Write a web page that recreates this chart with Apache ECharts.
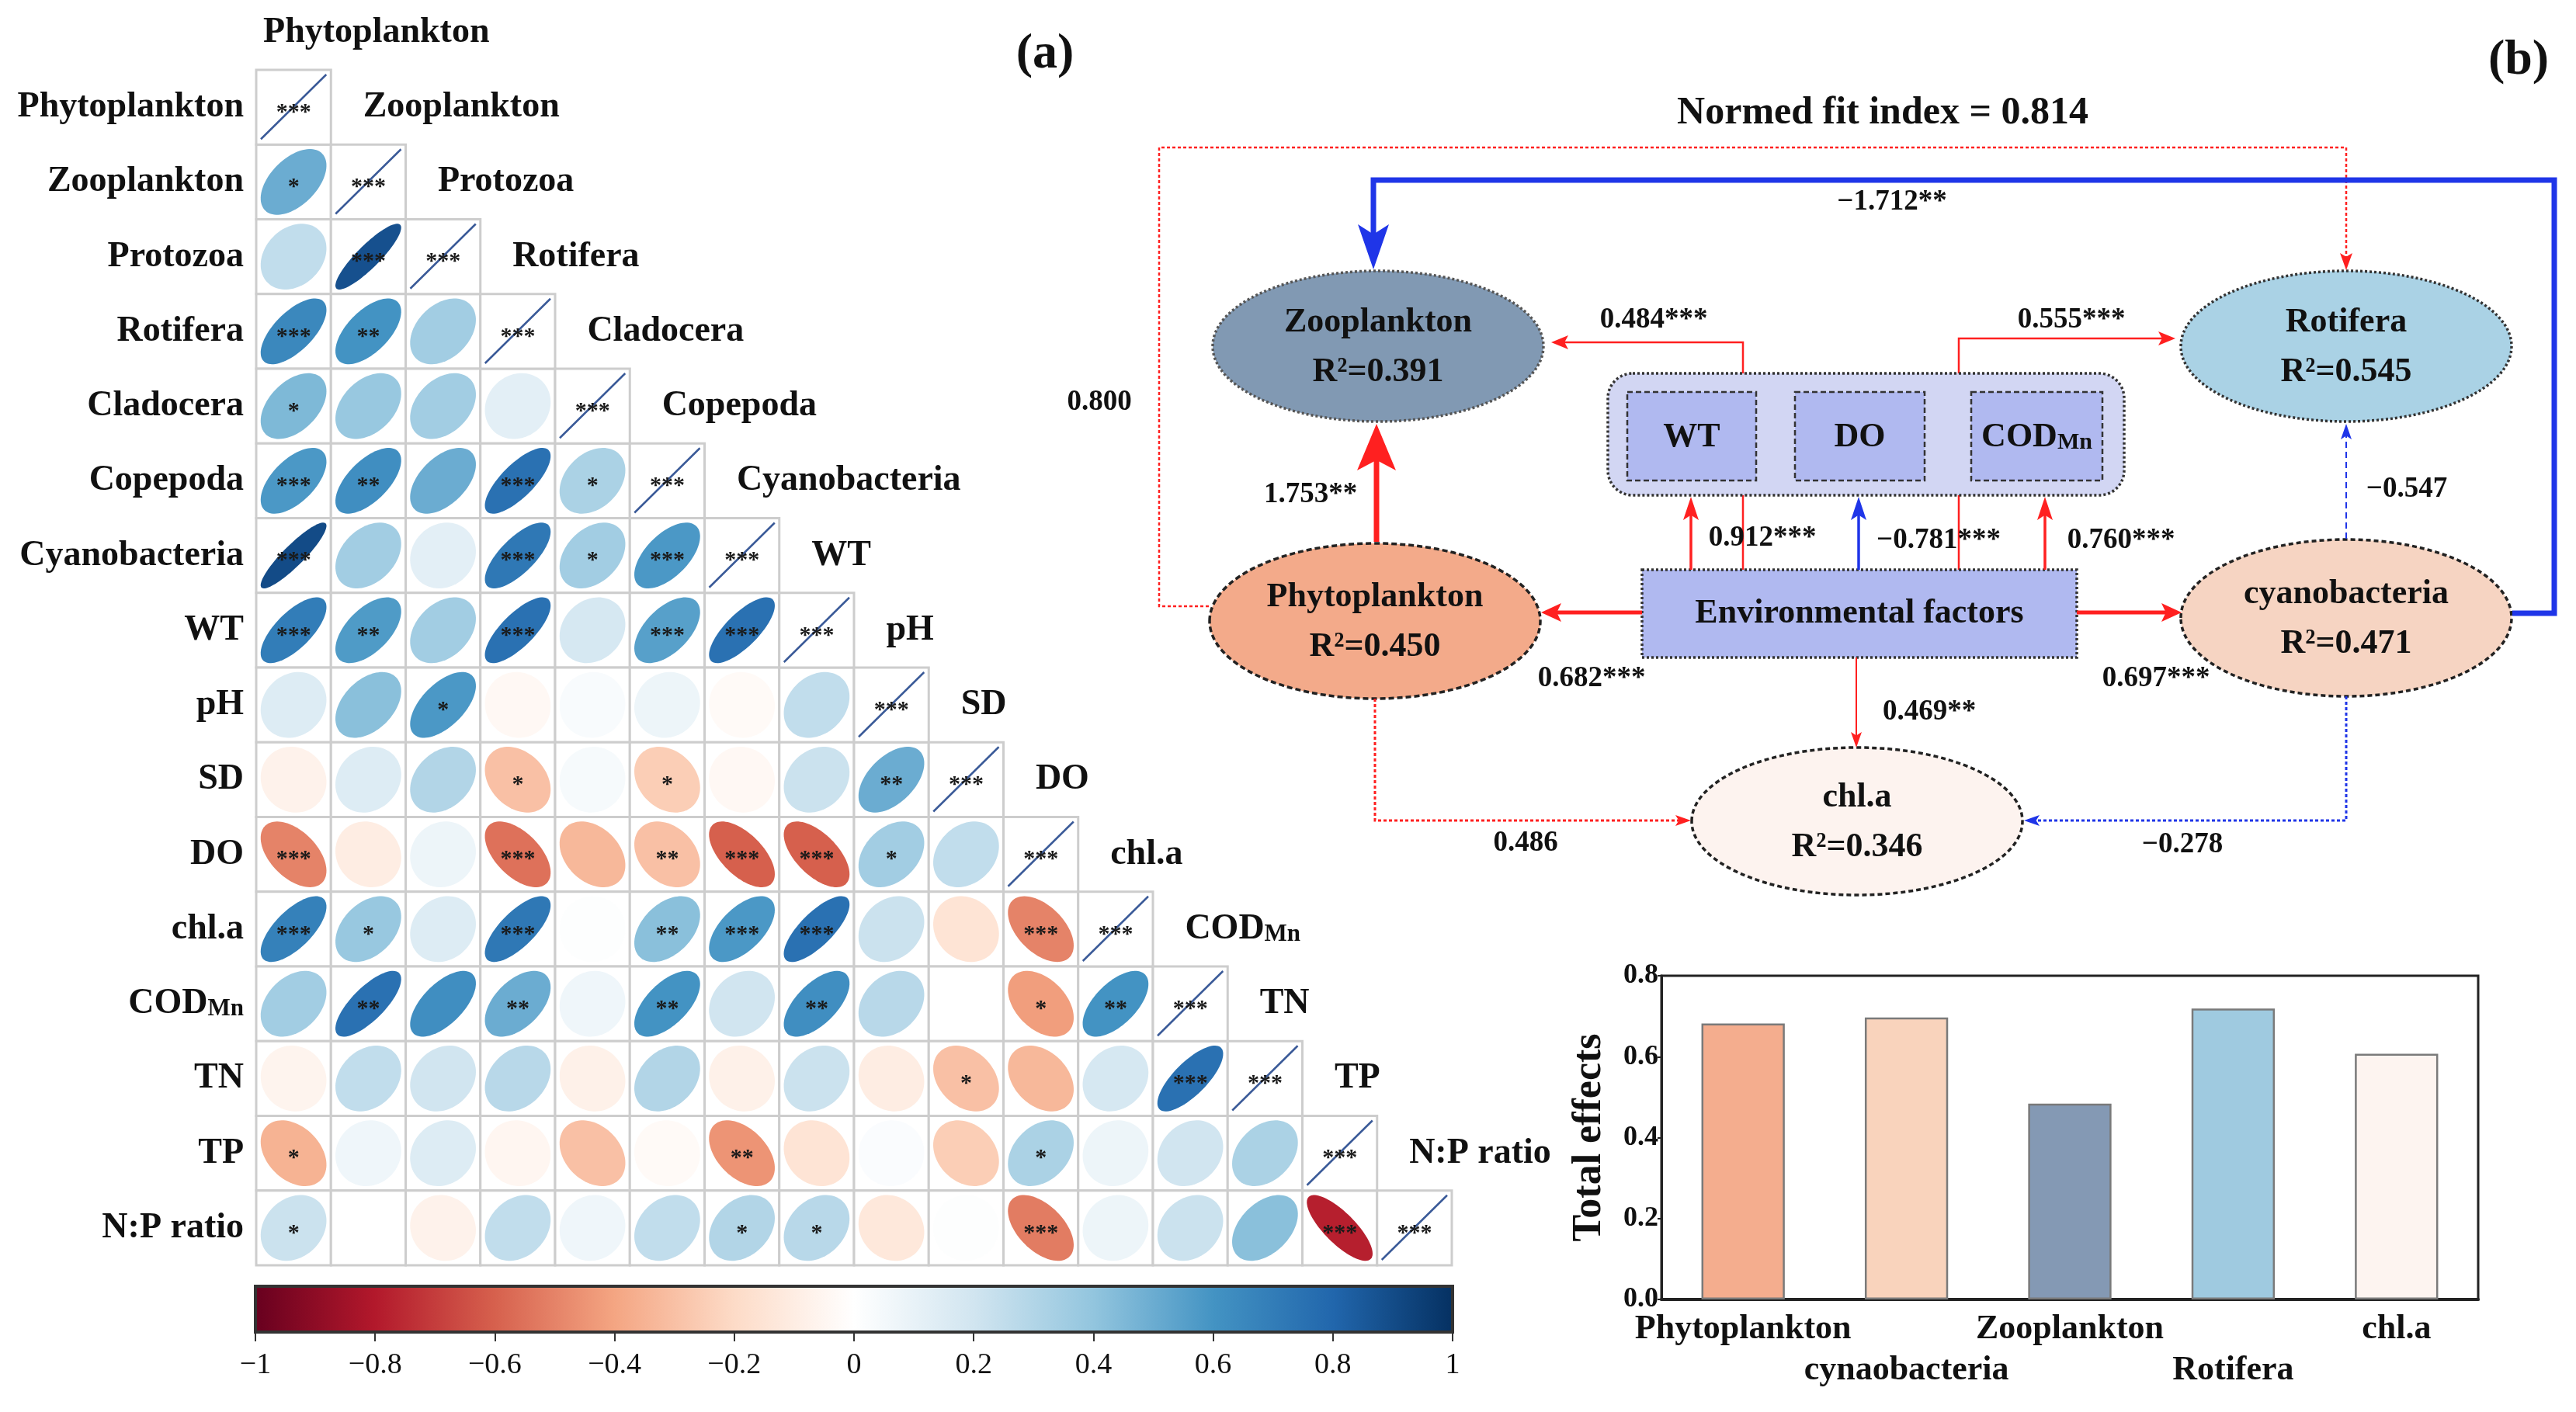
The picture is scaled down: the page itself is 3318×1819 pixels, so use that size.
<!DOCTYPE html>
<html><head><meta charset="utf-8">
<script src="https://cdn.jsdelivr.net/npm/echarts@6/dist/echarts.min.js"></script>
<style>html,body{margin:0;padding:0;background:#fff}#c{width:3318px;height:1819px}</style>
</head><body><div id="c"></div>
<script>
// ---------------- DATA ----------------
const variables = ['Phytoplankton','Zooplankton','Protozoa','Rotifera','Cladocera','Copepoda','Cyanobacteria','WT','pH','SD','DO','chl.a','CODMn','TN','TP','N:P ratio'];
// lower-triangle correlation coefficients (row i, columns 0..i-1)
const corrRows = [
  [],
  [0.50],
  [0.25, 0.88],
  [0.65, 0.60, 0.35],
  [0.45, 0.38, 0.35, 0.12],
  [0.58, 0.62, 0.50, 0.75, 0.32],
  [0.90, 0.35, 0.12, 0.72, 0.35, 0.58],
  [0.70, 0.57, 0.35, 0.75, 0.18, 0.55, 0.75],
  [0.15, 0.42, 0.58, -0.04, 0.03, 0.08, -0.03, 0.25],
  [-0.07, 0.15, 0.30, -0.30, 0.04, -0.25, -0.04, 0.22, 0.50],
  [-0.50, -0.10, 0.08, -0.55, -0.33, -0.30, -0.60, -0.60, 0.35, 0.25],
  [0.68, 0.38, 0.15, 0.72, 0.01, 0.42, 0.58, 0.75, 0.22, -0.15, -0.50],
  [0.35, 0.75, 0.62, 0.50, 0.07, 0.60, 0.20, 0.62, 0.28, 0.00, -0.42, 0.60],
  [-0.06, 0.25, 0.20, 0.28, -0.08, 0.30, -0.08, 0.22, -0.10, -0.30, -0.33, 0.18, 0.75],
  [-0.35, 0.07, 0.15, -0.05, -0.30, -0.03, -0.45, -0.15, 0.02, -0.25, 0.32, 0.08, 0.20, 0.32],
  [0.22, 0.00, -0.07, 0.25, 0.07, 0.25, 0.30, 0.28, -0.13, 0.01, -0.52, 0.08, 0.22, 0.42, -0.78]
];
const starRows = [
  [],
  ['*'],
  ['', '***'],
  ['***', '**', ''],
  ['*', '', '', ''],
  ['***', '**', '', '***', '*'],
  ['***', '', '', '***', '*', '***'],
  ['***', '**', '', '***', '', '***', '***'],
  ['', '', '*', '', '', '', '', ''],
  ['', '', '', '*', '', '*', '', '', '**'],
  ['***', '', '', '***', '', '**', '***', '***', '*', ''],
  ['***', '*', '', '***', '', '**', '***', '***', '', '', '***'],
  ['', '**', '', '**', '', '**', '', '**', '', '', '*', '**'],
  ['', '', '', '', '', '', '', '', '', '*', '', '', '***'],
  ['*', '', '', '', '', '', '**', '', '', '', '*', '', '', ''],
  ['*', '', '', '', '', '', '*', '*', '', '', '***', '', '', '', '***']
];
const diagStars = '***';
const colorbarTicks = [-1, -0.8, -0.6, -0.4, -0.2, 0, 0.2, 0.4, 0.6, 0.8, 1];

// SEM (panel b)
const normedFitIndex = '0.814';
const semNodeNames = ['Zooplankton', 'Rotifera', 'Phytoplankton', 'cyanobacteria', 'chl.a'];
const semR2 = ['0.391', '0.545', '0.450', '0.471', '0.346'];
const envFactors = ['WT', 'DO', 'CODMn'];
const semFrom = ['Environmental factors','Environmental factors','Environmental factors','Environmental factors','Environmental factors','Environmental factors','Environmental factors','Environmental factors','Phytoplankton','cyanobacteria','Phytoplankton','cyanobacteria','Phytoplankton','cyanobacteria'];
const semTo = ['Zooplankton','Rotifera','WT','DO','CODMn','Phytoplankton','cyanobacteria','chl.a','Zooplankton','Rotifera','chl.a','chl.a','Rotifera','Zooplankton'];
const semCoef = ['0.484***','0.555***','0.912***','−0.781***','0.760***','0.682***','0.697***','0.469**','1.753**','−0.547','0.486','−0.278','0.800','−1.712**'];

// Total effects bar chart
const effectCategories = ['Phytoplankton', 'cynaobacteria', 'Zooplankton', 'Rotifera', 'chl.a'];
const effectValues = [0.682, 0.697, 0.484, 0.719, 0.607];

// ---------------- STYLE / LAYOUT ----------------
const SERIF = '"Liberation Serif", "Times New Roman", serif';
const rdbu = ['#67001F','#B2182B','#D6604D','#F4A582','#FDDBC7','#FFFFFF','#D1E5F0','#92C5DE','#4393C3','#2166AC','#053061'];
const effectColors = ['#f4ad8e', '#f9d3bc', '#8499b4', '#9fcae0', '#fdf4f0'];
const RED = '#ff2020', BLUE = '#1f35e8';

const nodeLayout = {
  'Zooplankton':   {cx:1775, cy:446, rx:213, ry:97, fill:'#8199b3', stroke:'#555', dash:[3,3]},
  'Rotifera':      {cx:3022, cy:446, rx:213, ry:97, fill:'#aad2e5', stroke:'#333', dash:[3,3]},
  'Phytoplankton': {cx:1771, cy:800, rx:213, ry:100, fill:'#f3aa8a', stroke:'#222', dash:[7,4]},
  'cyanobacteria': {cx:3022, cy:796, rx:213, ry:101, fill:'#f6d4c2', stroke:'#222', dash:[6,4]},
  'chl.a':         {cx:2392, cy:1058, rx:213, ry:95, fill:'#fdf3ef', stroke:'#222', dash:[6,4]}
};
const groupBox = {x:2071, y:481, w:665, h:157, fill:'#d2d6f3'};
const envBoxLayout = [{x:2096, y:505, w:166, h:114}, {x:2312, y:505, w:167, h:114}, {x:2539, y:505, w:169, h:114}];
const envRect = {x:2115, y:734, w:560, h:113, fill:'#b0b9f0'};
const edgeLayout = [
  {route:[[2245,740],[2245,441],[1998,441]], w:2.5, head:[22,9], label:[2130,412], behind:true},
  {route:[[2523,740],[2523,436],[2802,436]], w:2.5, head:[22,9], label:[2668,412], behind:true},
  {route:[[2178,734],[2178,640]], w:3.5, head:[30,10], label:[2270,693]},
  {route:[[2394,734],[2394,640]], w:3.5, head:[30,10], label:[2497,696]},
  {route:[[2634,734],[2634,640]], w:3.5, head:[30,10], label:[2732,696]},
  {route:[[2115,789],[1985,789]], w:5, head:[26,12], label:[2050,874]},
  {route:[[2675,789],[2810,789]], w:5, head:[26,12], label:[2777,874]},
  {route:[[2391,847],[2391,963]], w:2, head:[20,7], label:[2485,917]},
  {route:[[1773,698],[1773,546]], w:7, head:[60,25], label:[1688,637]},
  {route:[[3022,694],[3022,546]], w:2, dash:[8,5], head:[20,7], label:[3100,630]},
  {route:[[1771,900],[1771,1057],[2178,1057]], w:3, dash:[4,3], head:[20,7], label:[1965,1086]},
  {route:[[3022,897],[3022,1057],[2607,1057]], w:3, dash:[4,3], head:[20,7], label:[2811,1088]},
  {route:[[1557,781],[1493,781],[1493,190],[3022,190],[3022,348]], w:2.5, dash:[4,3], head:[22,8], label:[1416,518]},
  {route:[[3236,790],[3290,790],[3290,232],[1769,232],[1769,347]], w:7, head:[58,20], label:[2437,260]}
];
const panelTexts = [
  {text:'(a)', x:1346, y:70, size:64},
  {text:'(b)', x:3244, y:78, size:64},
  {text:'Normed fit index = ' + normedFitIndex, x:2425, y:146, size:50}
];

// ---------------- BUILD ----------------
const cellData = [], cellStars = [];
for (let i = 1; i < variables.length; i++) {
  for (let j = 0; j < i; j++) {
    cellData.push([j + 0.5, i + 0.5, corrRows[i][j]]);
    cellStars.push(starRows[i][j] || '');
  }
}
const diagData = variables.map((v, i) => [i + 0.5, i + 0.5]);
const labelItems = [];
variables.forEach((v, i) => {
  labelItems.push({value:[-0.166, i + 0.5], text:v, align:'right'});
  labelItems.push({value:[i === 0 ? 0.094 : i + 0.43, i - 0.5], text:v, align:'left'});
});

function labelStyle(text, size, align) {
  const st = {fill:'#111', align:align || 'center', verticalAlign:'middle', fontFamily:SERIF, fontWeight:'bold', fontSize:size};
  if (text === 'CODMn') {
    st.text = '{a|COD}{b|Mn}';
    st.rich = {a:{fontFamily:SERIF, fontWeight:'bold', fontSize:size, fill:'#111'},
               b:{fontFamily:SERIF, fontWeight:'bold', fontSize:Math.round(size*0.68), fill:'#111', padding:[Math.round(size*0.3),0,0,0]}};
  } else st.text = text;
  return st;
}

function renderCell(params, api) {
  const c = api.coord([api.value(0), api.value(1)]);
  const s = api.size([1, 1]);
  const w = s[0], h = s[1];
  const r = Math.max(-0.999, Math.min(0.999, api.value(2)));
  const d = Math.acos(r);
  const R = w / 2 * 0.88;
  const pts = [];
  for (let k = 0; k < 90; k++) {
    const t = k / 90 * 2 * Math.PI;
    pts.push([c[0] + R * Math.cos(t + d / 2), c[1] - R * Math.cos(t - d / 2)]);
  }
  const children = [
    {type:'rect', shape:{x:c[0]-w/2, y:c[1]-h/2, width:w, height:h}, style:{fill:'#fff', stroke:'#cdcdcd', lineWidth:3}},
    {type:'polygon', shape:{points:pts}, style:{fill:api.visual('color')}}
  ];
  const st = cellStars[params.dataIndex];
  if (st) children.push({type:'text', x:c[0], y:c[1] + 7, style:{text:st, fill:'#1a1a1a', align:'center', verticalAlign:'middle', fontFamily:SERIF, fontWeight:'bold', fontSize:30}});
  return {type:'group', children};
}
function renderDiag(params, api) {
  const c = api.coord([api.value(0), api.value(1)]);
  const s = api.size([1, 1]);
  const w = s[0], h = s[1];
  return {type:'group', children:[
    {type:'rect', shape:{x:c[0]-w/2, y:c[1]-h/2, width:w, height:h}, style:{fill:'#fff', stroke:'#cdcdcd', lineWidth:3}},
    {type:'line', shape:{x1:c[0]-w/2+6, y1:c[1]+h/2-7, x2:c[0]+w/2-6, y2:c[1]-h/2+6}, style:{stroke:'#3a5a98', lineWidth:2.5}},
    {type:'text', x:c[0], y:c[1]+7, style:{text:diagStars, fill:'#1a1a1a', align:'center', verticalAlign:'middle', fontFamily:SERIF, fontWeight:'bold', fontSize:30}}
  ]};
}
function renderLabel(params, api) {
  const c = api.coord([api.value(0), api.value(1)]);
  const it = labelItems[params.dataIndex];
  return {type:'text', x:c[0], y:c[1], style:labelStyle(it.text, 46, it.align)};
}
function renderColorbar(params, api) {
  const p0 = api.coord([api.value(0), 1]);
  const p1 = api.coord([api.value(1), 0]);
  const stops = rdbu.map((col, k) => ({offset:k / (rdbu.length - 1), color:col}));
  return {type:'group', children:[
    {type:'rect', shape:{x:p0[0], y:p0[1], width:p1[0]-p0[0], height:p1[1]-p0[1]},
     style:{fill:new echarts.graphic.LinearGradient(0, 0, 1, 0, stops), stroke:'#333', lineWidth:4}}
  ]};
}

// SEM shapes
const shapeItems = [];
shapeItems.push({kind:'group', value:[groupBox.x, groupBox.y]});
envFactors.forEach((f, k) => shapeItems.push({kind:'box', label:f, L:envBoxLayout[k], value:[envBoxLayout[k].x, envBoxLayout[k].y]}));
shapeItems.push({kind:'env', label:'Environmental factors', value:[envRect.x, envRect.y]});
semNodeNames.forEach((n, k) => shapeItems.push({kind:'node', name:n, r2:semR2[k], value:[nodeLayout[n].cx, nodeLayout[n].cy]}));

function renderShape(params, api) {
  const it = shapeItems[params.dataIndex];
  const p = api.coord(it.value);
  if (it.kind === 'group') {
    const sz = api.size([groupBox.w, groupBox.h]);
    return {type:'rect', shape:{x:p[0], y:p[1], width:sz[0], height:sz[1], r:32},
      style:{fill:groupBox.fill, stroke:'#333', lineWidth:3.5, lineDash:[3,3]}};
  }
  if (it.kind === 'box') {
    const sz = api.size([it.L.w, it.L.h]);
    return {type:'group', children:[
      {type:'rect', shape:{x:p[0], y:p[1], width:sz[0], height:sz[1]}, style:{fill:envRect.fill, stroke:'#333', lineWidth:2.5, lineDash:[7,4]}},
      {type:'text', x:p[0]+sz[0]/2, y:p[1]+sz[1]/2+2, style:labelStyle(it.label, 44, 'center')}
    ]};
  }
  if (it.kind === 'env') {
    const sz = api.size([envRect.w, envRect.h]);
    return {type:'group', children:[
      {type:'rect', shape:{x:p[0], y:p[1], width:sz[0], height:sz[1]}, style:{fill:envRect.fill, stroke:'#333', lineWidth:3.5, lineDash:[3,3]}},
      {type:'text', x:p[0]+sz[0]/2, y:p[1]+sz[1]/2, style:labelStyle(it.label, 44, 'center')}
    ]};
  }
  const L = nodeLayout[it.name];
  const rr = api.size([L.rx, L.ry]);
  return {type:'group', children:[
    {type:'ellipse', shape:{cx:p[0], cy:p[1], rx:rr[0], ry:rr[1]}, style:{fill:L.fill, stroke:L.stroke, lineWidth:3.5, lineDash:L.dash}},
    {type:'text', x:p[0], y:p[1]-30, style:labelStyle(it.name, 44, 'center')},
    {type:'text', x:p[0], y:p[1]+34, style:labelStyle('R²=' + it.r2, 44, 'center')}
  ]};
}

const edgeItems = semCoef.map((c, k) => ({coef:c, from:semFrom[k], to:semTo[k], L:edgeLayout[k], value:edgeLayout[k].route[0]}));
const behindEdges = edgeItems.filter(e => e.L.behind);
const frontEdges = edgeItems.filter(e => !e.L.behind);
function makeEdgeRenderer(list) {
  return function (params, api) {
    const e = list[params.dataIndex];
    const color = e.coef.charAt(0) === '−' ? BLUE : RED;
    const pts = e.L.route.map(q => api.coord(q));
    const n = pts.length;
    const tip = pts[n-1], prev = pts[n-2];
    const dx = tip[0]-prev[0], dy = tip[1]-prev[1];
    const len = Math.sqrt(dx*dx + dy*dy);
    const ux = dx/len, uy = dy/len;
    const hl = e.L.head[0], hw = e.L.head[1];
    const base = [tip[0]-ux*hl, tip[1]-uy*hl];
    const linePts = pts.slice(0, n-1).concat([[tip[0]-ux*hl*0.7, tip[1]-uy*hl*0.7]]);
    return {type:'group', children:[
      {type:'polyline', shape:{points:linePts}, style:{stroke:color, lineWidth:e.L.w, lineDash:e.L.dash || null, fill:null}},
      {type:'polygon', shape:{points:[tip, [base[0]-uy*hw, base[1]+ux*hw], [tip[0]-ux*hl*0.78, tip[1]-uy*hl*0.78], [base[0]+uy*hw, base[1]-ux*hw]]}, style:{fill:color}}
    ]};
  };
}
const edgeLabelItems = edgeItems.map(e => ({text:e.coef, value:e.L.label})).concat(panelTexts.map(t => ({text:t.text, value:[t.x, t.y], size:t.size})));
function renderEdgeLabel(params, api) {
  const it = edgeLabelItems[params.dataIndex];
  const p = api.coord(it.value);
  return {type:'text', x:p[0], y:p[1], style:{text:it.text, fill:'#111', align:'center', verticalAlign:'middle', fontFamily:SERIF, fontWeight:'bold', fontSize:it.size || 37}};
}

const option = {
  animation: false,
  backgroundColor: '#ffffff',
  grid: [
    {left:330, top:90, width:1540, height:1540},
    {left:329, top:1657, width:1542, height:59},
    {left:0, top:0, width:3318, height:1819},
    {left:2140, top:1257, width:1052, height:417, show:true, borderColor:'#222', borderWidth:3, backgroundColor:'transparent'}
  ],
  xAxis: [
    {gridIndex:0, type:'value', min:0, max:16, show:false},
    {gridIndex:1, type:'value', min:-1, max:1, interval:0.2, position:'bottom',
     axisLine:{show:false}, splitLine:{show:false},
     axisTick:{show:true, length:12, lineStyle:{color:'#333', width:2}},
     axisLabel:{margin:24, fontFamily:SERIF, fontSize:38, color:'#111',
       formatter: v => { const x = Math.round(v*10)/10; return x < 0 ? '−' + Math.abs(x) : String(x); }}},
    {gridIndex:2, type:'value', min:0, max:3318, show:false},
    {gridIndex:3, type:'category', data:effectCategories,
     axisLine:{show:true, lineStyle:{color:'#222', width:4}}, axisTick:{show:false},
     axisLabel:{margin:12, fontFamily:SERIF, fontWeight:'bold', fontSize:44, color:'#111', lineHeight:53, interval:0,
       formatter:(v, i) => (i % 2 ? '\n' + v : v)}}
  ],
  yAxis: [
    {gridIndex:0, type:'value', min:0, max:16, inverse:true, show:false},
    {gridIndex:1, type:'value', min:0, max:1, show:false},
    {gridIndex:2, type:'value', min:0, max:1819, inverse:true, show:false},
    {gridIndex:3, type:'value', min:0, max:0.8, interval:0.2,
     name:'Total effects', nameLocation:'middle', nameGap:66, nameRotate:90,
     nameTextStyle:{fontFamily:SERIF, fontWeight:'bold', fontSize:52, color:'#111'},
     axisLine:{show:true, lineStyle:{color:'#222', width:3}},
     axisTick:{show:true, length:5, lineStyle:{color:'#222', width:2}},
     axisLabel:{margin:4, fontFamily:SERIF, fontWeight:'bold', fontSize:36, color:'#111', formatter:v => v.toFixed(1)},
     splitLine:{show:false}}
  ],
  visualMap: {type:'continuous', show:false, seriesIndex:0, dimension:2, min:-1, max:1, inRange:{color:rdbu}},
  series: [
    {type:'custom', xAxisIndex:0, yAxisIndex:0, data:cellData, renderItem:renderCell, z:2},
    {type:'custom', xAxisIndex:0, yAxisIndex:0, data:diagData, renderItem:renderDiag, z:2},
    {type:'custom', xAxisIndex:0, yAxisIndex:0, data:labelItems.map(l => l.value), renderItem:renderLabel, z:3},
    {type:'custom', xAxisIndex:1, yAxisIndex:1, data:[[colorbarTicks[0], colorbarTicks[colorbarTicks.length-1]]], renderItem:renderColorbar, z:2},
    {type:'custom', xAxisIndex:2, yAxisIndex:2, data:behindEdges.map(e => e.value), renderItem:makeEdgeRenderer(behindEdges), z:3},
    {type:'custom', xAxisIndex:2, yAxisIndex:2, data:shapeItems.map(s => s.value), renderItem:renderShape, z:4},
    {type:'custom', xAxisIndex:2, yAxisIndex:2, data:frontEdges.map(e => e.value), renderItem:makeEdgeRenderer(frontEdges), z:5},
    {type:'custom', xAxisIndex:2, yAxisIndex:2, data:edgeLabelItems.map(e => e.value), renderItem:renderEdgeLabel, z:6},
    {type:'bar', xAxisIndex:3, yAxisIndex:3, barWidth:'51%', z:3,
     data:effectValues.map((v, k) => ({value:v, itemStyle:{color:effectColors[k], borderColor:'#7a7a7a', borderWidth:2.5}}))}
  ]
};
const chart = echarts.init(document.getElementById('c'), null, {renderer:'canvas'});
chart.setOption(option);
</script>
</body></html>
